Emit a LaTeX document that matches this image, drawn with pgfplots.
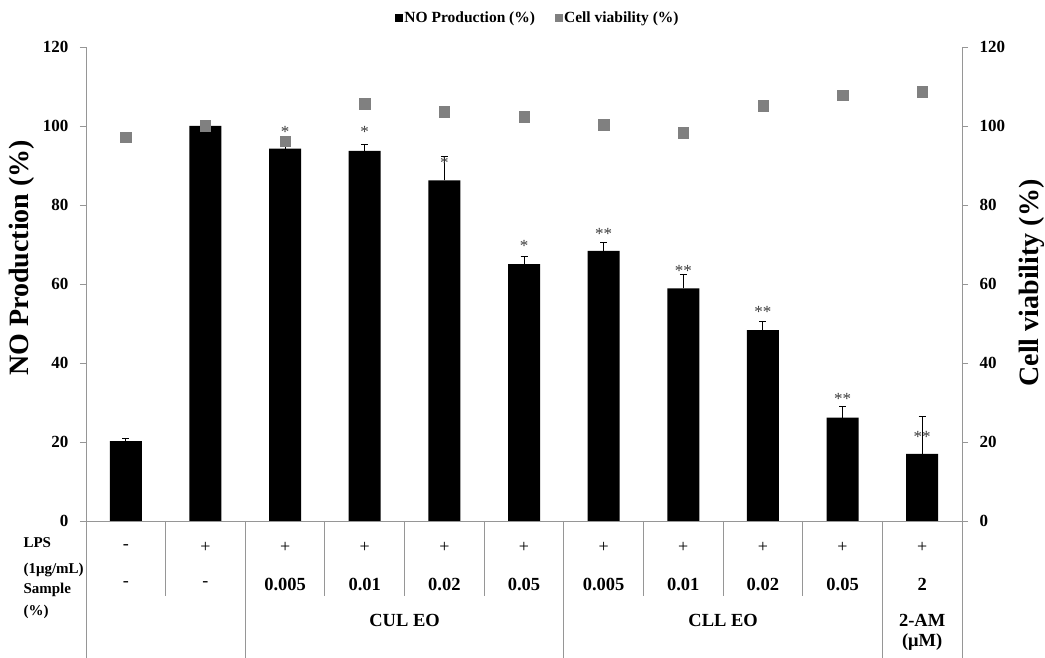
\documentclass[border=0pt]{standalone}
\usepackage{pgfplots}
\pgfplotsset{compat=1.18}
\usepackage{pgfplotstable}
\usepackage{fontspec}
\usetikzlibrary{plotmarks}
\setmainfont{Liberation Serif}

\definecolor{axisgray}{RGB}{150,150,150}
\definecolor{cvgray}{RGB}{128,128,128}
\definecolor{stargray}{RGB}{60,60,60}

\newcommand\tickfont{\fontsize{17bp}{20bp}\selectfont\bfseries}
\newcommand\labfont{\fontsize{28bp}{32bp}\selectfont\bfseries}
\newcommand\legfont{\fontsize{15.5bp}{18bp}\selectfont\bfseries}
\newcommand\tabfont{\fontsize{18.5bp}{22bp}\selectfont\bfseries}
\newcommand\rowfont{\fontsize{15bp}{18bp}\selectfont\bfseries}
\newcommand\signfont{\fontsize{18bp}{22bp}\selectfont}
\newcommand\starfont{\fontsize{17bp}{19bp}\selectfont}

% x: group index, no: NO production (%), err: SD, cv: cell viability (%)
\pgfplotstableread{
x  no     err   cv
0  20.2   0.7   97.2
1  100.0  0.0   100.1
2  94.3   0.5   96.1
3  93.7   1.7   105.6
4  86.2   6.0   103.6
5  65.0   1.9   102.4
6  68.4   2.0   100.3
7  58.9   3.5   98.3
8  48.3   2.1   105.1
9  26.2   2.8   107.8
10 17.0   9.4   108.7
}\datatable

\begin{document}
\begin{tikzpicture}[x=1bp,y=1bp]
\path[use as bounding box] (0,0) rectangle (1045,658);

\begin{axis}[
  at={(86bp,137bp)}, anchor=south west,
  width=876bp, height=474bp, scale only axis,
  xmin=-0.5, xmax=10.5, ymin=0, ymax=120,
  axis y line*=left, axis x line*=bottom,
  axis line style={axisgray, line width=0.9bp},
  xtick=\empty,
  ytick={0,20,...,120},
  tick style={axisgray, line width=0.9bp},
  major tick length=6bp, tick align=outside,
  yticklabel style={font=\tickfont, xshift=-8bp},
  /pgf/number format/assume math mode=true,
  ylabel={NO Production (\%)},
  ylabel style={font=\labfont, at={(axis description cs:-0.073,0.555)}, anchor=center},
  clip=false,
]
\addplot[ybar, bar width=32bp, fill=black, draw=none,
  error bars/.cd, y dir=plus, y explicit,
  error bar style={black, line width=0.9bp},
  error mark options={rotate=90, mark size=3.5bp, black, line width=0.9bp}]
  table[x=x, y=no, y error=err] {\datatable};

% significance marks
\addplot[only marks, mark=text, text mark={*}, text mark as node=true,
  text mark style={font=\starfont, text=stargray, inner sep=0pt}]
  coordinates {(2,98.6) (3,98.4) (4,90.7) (5,69.7)};
\addplot[only marks, mark=text, text mark={**}, text mark as node=true,
  text mark style={font=\starfont, text=stargray, inner sep=0pt}]
  coordinates {(6,72.6) (7,63.4) (8,52.8) (9,30.8) (10,21.4)};

% table grid below the axis
\pgfplotsinvokeforeach{0.5,2.5,3.5,4.5,6.5,7.5,8.5}{
  \draw[axisgray, line width=0.9bp] (axis cs:#1,0) -- ++(0bp,-75bp);
}
\pgfplotsinvokeforeach{-0.5,1.5,5.5,9.5,10.5}{
  \draw[axisgray, line width=0.9bp] (axis cs:#1,0) -- ++(0bp,-137bp);
}

% LPS row
\node[font=\signfont] at ([yshift=-26bp]axis cs:0,0) {-};
\pgfplotsinvokeforeach{1,...,10}{
  \node[font=\signfont] at ([yshift=-26bp]axis cs:#1,0) {+};
}
% sample row
\node[font=\signfont] at ([yshift=-63bp]axis cs:0,0) {-};
\node[font=\signfont] at ([yshift=-63bp]axis cs:1,0) {-};
\node[font=\tabfont] at ([yshift=-63bp]axis cs:2,0) {0.005};
\node[font=\tabfont] at ([yshift=-63bp]axis cs:3,0) {0.01};
\node[font=\tabfont] at ([yshift=-63bp]axis cs:4,0) {0.02};
\node[font=\tabfont] at ([yshift=-63bp]axis cs:5,0) {0.05};
\node[font=\tabfont] at ([yshift=-63bp]axis cs:6,0) {0.005};
\node[font=\tabfont] at ([yshift=-63bp]axis cs:7,0) {0.01};
\node[font=\tabfont] at ([yshift=-63bp]axis cs:8,0) {0.02};
\node[font=\tabfont] at ([yshift=-63bp]axis cs:9,0) {0.05};
\node[font=\tabfont] at ([yshift=-63bp]axis cs:10,0) {2};
% group row
\node[font=\tabfont] at ([yshift=-99bp]axis cs:3.5,0) {CUL EO};
\node[font=\tabfont] at ([yshift=-99bp]axis cs:7.5,0) {CLL EO};
\node[font=\tabfont] at ([yshift=-99bp]axis cs:10,0) {2-AM};
\node[font=\tabfont] at ([yshift=-121bp]axis cs:10,0) {(μM)};

% row headings
\node[font=\rowfont, anchor=west] at ([xshift=-66bp,yshift=-22bp]axis cs:-0.5,0) {LPS};
\node[font=\rowfont, anchor=west] at ([xshift=-66bp,yshift=-49bp]axis cs:-0.5,0) {(1μg/mL)};
\node[font=\rowfont, anchor=west] at ([xshift=-66bp,yshift=-69bp]axis cs:-0.5,0) {Sample};
\node[font=\rowfont, anchor=west] at ([xshift=-66bp,yshift=-91bp]axis cs:-0.5,0) {(\%)};
\end{axis}

\begin{axis}[
  at={(86bp,137bp)}, anchor=south west,
  width=876bp, height=474bp, scale only axis,
  xmin=-0.5, xmax=10.5, ymin=0, ymax=120,
  axis y line*=right, axis x line=none,
  axis line style={axisgray, line width=0.9bp},
  ytick={0,20,...,120},
  tick style={axisgray, line width=0.9bp},
  major tick length=6bp, tick align=outside,
  yticklabel style={font=\tickfont, xshift=8bp},
  /pgf/number format/assume math mode=true,
  ylabel={Cell viability (\%)},
  ylabel style={font=\labfont, at={(axis description cs:1.080,0.502)}, anchor=center},
  clip=false,
  legend columns=2,
  legend style={draw=none, fill=none, font=\legfont,
    at={(axis description cs:0.516,1.061)}, anchor=center,
    /tikz/every even column/.append style={column sep=18bp},
    inner sep=0pt},
  legend image code/.code={\draw[#1] plot coordinates {(0bp,0bp)};},
]
\addlegendimage{only marks, mark=square*, mark size=3.5bp, black}
\addlegendentry{NO Production (\%)}
\addlegendimage{only marks, mark=square*, mark size=3.5bp, cvgray}
\addlegendentry{Cell viability (\%)}
\addplot[only marks, mark=square*, mark size=5.2bp, color=cvgray, forget plot]
  table[x=x, y=cv] {\datatable};
\end{axis}
\end{tikzpicture}
\end{document}
